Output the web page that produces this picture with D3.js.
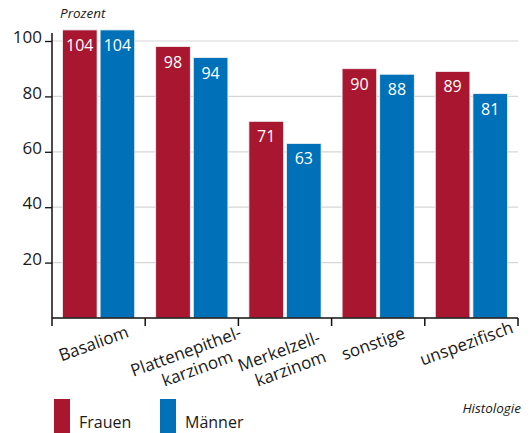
<!DOCTYPE html>
<html>
<head>
<meta charset="utf-8">
<script src="https://cdn.jsdelivr.net/npm/d3@7"></script>
<style>
  body { margin: 0; background: #fff; }
  svg text { font-family: "Open Sans", sans-serif; fill: #1a1a1a; }
</style>
</head>
<body>
<svg id="chart" width="531" height="433"></svg>
<script>
// data
const categories = ['Basaliom', 'Plattenepithel-karzinom', 'Merkelzell-karzinom', 'sonstige', 'unspezifisch'];
const categoryLines = [['Basaliom'], ['Plattenepithel-', 'karzinom'], ['Merkelzell-', 'karzinom'], ['sonstige'], ['unspezifisch']];
const series = ['Frauen', 'Männer'];
const frauen = [104, 98, 71, 90, 89];
const maenner = [104, 94, 63, 88, 81];
const yTicks = [20, 40, 60, 80, 100];

const colors = { 'Frauen': '#a8172f', 'Männer': '#0071b9' };

const svg = d3.select('#chart');
const left = 52, right = 518, bottom = 318;

let x0 = d3.scaleBand().domain(categories).range([left, right]).padding(0);
let x1 = d3.scaleBand().domain(series).range([10.5, x0.bandwidth() - 10.5]).paddingInner(0.08);
let y = d3.scaleLinear().domain([0, 100]).range([bottom, 41]);

// gridlines
svg.append('g')
    .selectAll('line')
    .data(yTicks)
    .join('line')
    .attr('x1', left).attr('x2', right)
    .attr('y1', d => y(d)).attr('y2', d => y(d))
    .attr('stroke', '#d6d6d6')
    .attr('stroke-width', 1.2);

// bars
const rows = categories.map((c, i) => ({ cat: c, values: [
    { s: 'Frauen', v: frauen[i] },
    { s: 'Männer', v: maenner[i] }
] }));

const groups = svg.append('g')
    .selectAll('g')
    .data(rows)
    .join('g')
    .attr('transform', d => 'translate(' + x0(d.cat) + ',0)');

groups.selectAll('rect')
    .data(d => d.values)
    .join('rect')
    .attr('x', d => x1(d.s))
    .attr('y', d => y(d.v))
    .attr('width', x1.bandwidth())
    .attr('height', d => bottom - y(d.v))
    .attr('fill', d => colors[d.s])
    .attr('stroke', '#f2f2f2')
    .attr('stroke-width', 0.8);

groups.selectAll('text')
    .data(d => d.values)
    .join('text')
    .attr('x', d => x1(d.s) + x1.bandwidth() / 2)
    .attr('y', d => y(d.v) + 21)
    .attr('text-anchor', 'middle')
    .style('fill', '#fff')
    .style('font-size', '16px')
    .text(d => d.v);

// y axis
const yAxis = d3.axisLeft(y).tickValues(yTicks).tickSize(7).tickPadding(3);
const gy = svg.append('g')
    .attr('transform', 'translate(' + left + ',0)')
    .call(yAxis);
gy.select('.domain').remove();
gy.selectAll('.tick line').attr('stroke', '#111').attr('stroke-width', 1.3);
gy.selectAll('.tick text')
    .attr('dy', '0.1em')
    .style('font-size', '17px')
    .style('font-family', '"Open Sans", sans-serif')
    .style('fill', '#1a1a1a');

svg.append('line')
    .attr('x1', left).attr('x2', left)
    .attr('y1', 33).attr('y2', bottom + 8)
    .attr('stroke', '#111').attr('stroke-width', 1.5);

// x axis
svg.append('line')
    .attr('x1', left).attr('x2', right)
    .attr('y1', bottom).attr('y2', bottom)
    .attr('stroke', '#111').attr('stroke-width', 1.5);

const boundaries = categories.map(c => x0(c)).concat([right]);
svg.append('g')
    .selectAll('line')
    .data(boundaries.slice(1))
    .join('line')
    .attr('x1', d => d).attr('x2', d => d)
    .attr('y1', bottom).attr('y2', bottom + 8)
    .attr('stroke', '#111').attr('stroke-width', 1.5);

// category labels
const labels = svg.append('g')
    .selectAll('text')
    .data(categories)
    .join('text')
    .attr('transform', (c, i) => {
        const cx = x0(c) + x0.bandwidth() / 2;
        return categoryLines[i].length > 1
            ? 'translate(' + (cx - 4) + ',357) rotate(-20)'
            : 'translate(' + (cx - 3) + ',349) rotate(-20)';
    })
    .attr('text-anchor', 'middle')
    .style('font-size', '17px');

labels.each(function(c, i) {
    const t = d3.select(this);
    categoryLines[i].forEach((line, k) => {
        t.append('tspan')
            .attr('x', k * 5)
            .attr('y', k * 20)
            .text(line);
    });
});

// axis titles
svg.append('text')
    .attr('x', 60).attr('y', 18)
    .style('font-size', '13.5px')
    .style('font-style', 'italic')
    .text('Prozent');

svg.append('text')
    .attr('x', 521).attr('y', 413)
    .attr('text-anchor', 'end')
    .style('font-size', '13.5px')
    .style('font-style', 'italic')
    .text('Histologie');

// legend
const legend = svg.append('g')
    .selectAll('g')
    .data(series)
    .join('g')
    .attr('transform', (d, i) => 'translate(' + (54 + i * 106) + ',399)');

legend.append('rect')
    .attr('width', 16).attr('height', 34)
    .attr('fill', d => colors[d]);

legend.append('text')
    .attr('x', 25).attr('y', 29)
    .style('font-size', '16px')
    .text(d => d);
</script>
</body>
</html>
